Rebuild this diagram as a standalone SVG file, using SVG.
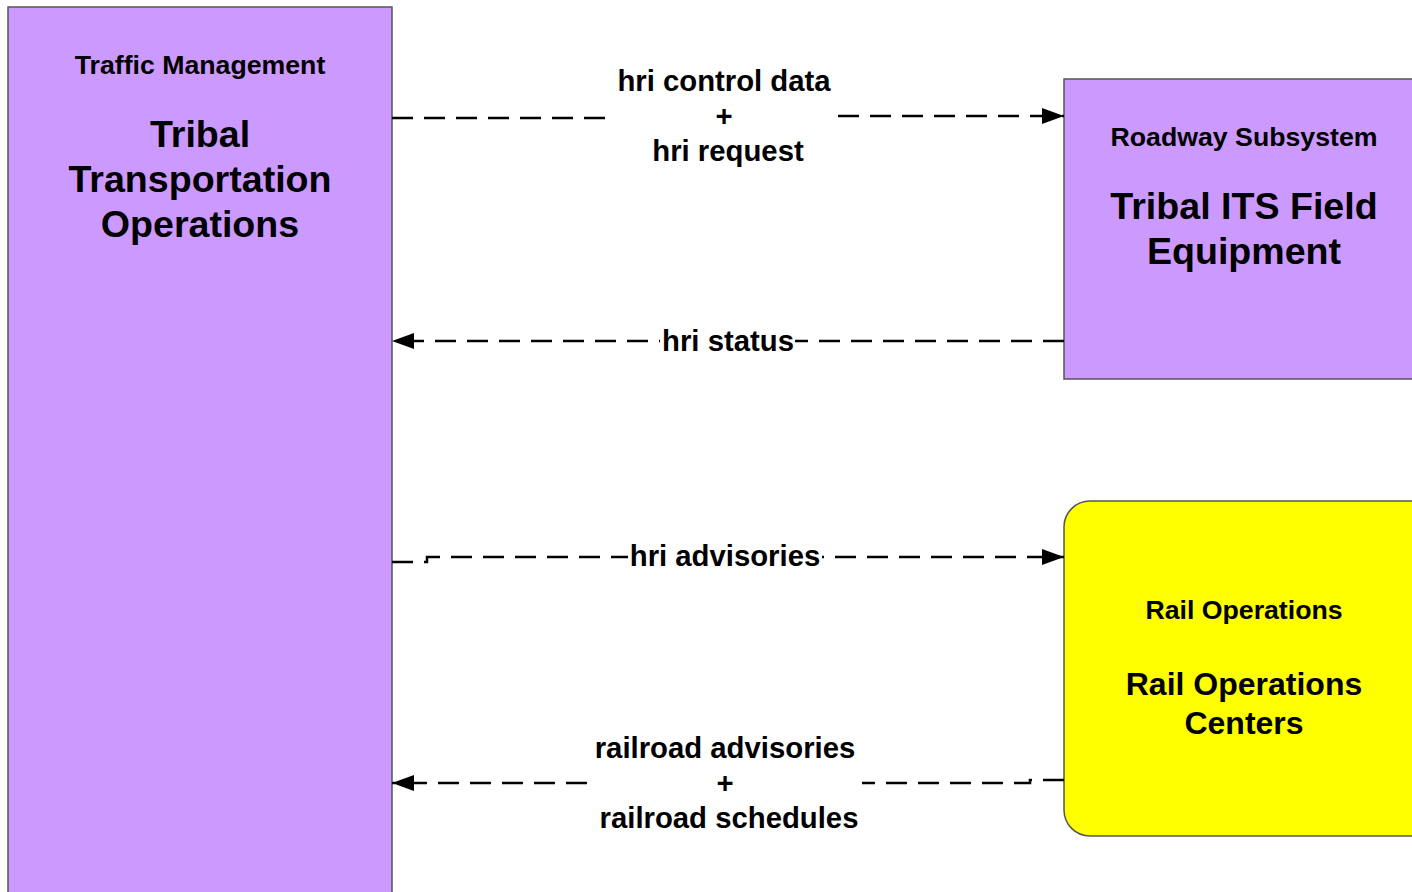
<svg xmlns="http://www.w3.org/2000/svg" width="1412" height="892" viewBox="0 0 1412 892">
<style>
.box{stroke:#555;stroke-width:1.5}
.purple{fill:#CC99FF}
.yellow{fill:#FFFF00}
text{font-family:"Liberation Sans",Arial,sans-serif;font-weight:bold;fill:#000;text-anchor:middle}
.sub{font-size:26.7px}
.big{font-size:37.6px}
.rbig{font-size:32px}
.lbl{font-size:29.3px}
.conn{fill:none;stroke:#000;stroke-width:2.5;stroke-dasharray:21 11}
.bg{fill:#fff}
</style>
<defs>
<marker id="arr" markerUnits="userSpaceOnUse" markerWidth="24" markerHeight="18" refX="22" refY="8" orient="auto">
<path d="M0,0 L22,8 L0,16 z" fill="#000"/>
</marker>
</defs>
<rect width="1412" height="892" fill="#fff"/>
<g id="tto">
<rect class="box purple" x="8" y="7" width="384" height="900"/>
<text class="sub" x="200" y="74">Traffic Management</text>
<text class="big" x="200" y="147">Tribal</text>
<text class="big" x="200" y="192">Transportation</text>
<text class="big" x="200" y="237">Operations</text>
</g>
<g id="its">
<rect class="box purple" x="1064" y="79" width="360" height="300"/>
<text class="sub" x="1244" y="146">Roadway Subsystem</text>
<text class="big" x="1244" y="219">Tribal ITS Field</text>
<text class="big" x="1244" y="264">Equipment</text>
</g>
<g id="roc">
<rect class="box yellow" x="1064" y="501" width="372" height="335" rx="26" ry="26"/>
<text class="sub" x="1244" y="619">Rail Operations</text>
<text class="rbig" x="1244" y="695">Rail Operations</text>
<text class="rbig" x="1244" y="734">Centers</text>
</g>
<g id="connectors">
<path class="conn" d="M392,118 H726 V116 H1064" marker-end="url(#arr)"/>
<path class="conn" d="M1064,341 H392" marker-end="url(#arr)"/>
<path class="conn" d="M392,562 H427 V557 H1064" marker-end="url(#arr)"/>
<path class="conn" d="M1064,780 H1030 V783 H392" marker-end="url(#arr)"/>
<rect class="bg" x="615" y="64" width="223" height="105"/>
<rect class="bg" x="660" y="327" width="135" height="30"/>
<rect class="bg" x="628" y="542" width="194" height="30"/>
<rect class="bg" x="590" y="731" width="272" height="105"/>
<text class="lbl" x="724" y="91">hri control data</text>
<text class="lbl" x="724" y="126">+</text>
<text class="lbl" x="728" y="161">hri request</text>
<text class="lbl" x="728" y="351">hri status</text>
<text class="lbl" x="725" y="566">hri advisories</text>
<text class="lbl" x="725" y="758">railroad advisories</text>
<text class="lbl" x="725" y="793">+</text>
<text class="lbl" x="729" y="828">railroad schedules</text>
</g>
</svg>
